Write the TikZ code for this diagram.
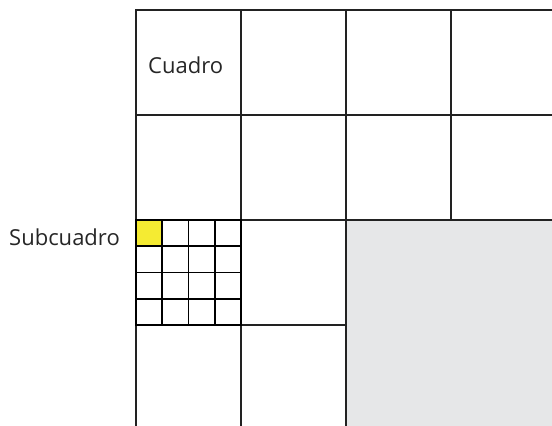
\documentclass[tikz,border=0pt]{standalone}
\usepackage{fontspec}
\setmainfont{Open Sans}
\definecolor{gridline}{HTML}{222222}
\definecolor{greyfill}{HTML}{E6E7E8}
\definecolor{hilite}{HTML}{F5EB32}
\begin{document}
\begin{tikzpicture}[x=1pt,y=-1pt,
  cell/.style={draw=gridline,line width=1.4pt},
  subcell/.style={draw=black,line width=1.8pt},
  lbl/.style={inner sep=0pt,font=\fontsize{22}{26}\selectfont,text=black!85}]
\useasboundingbox (0,0) rectangle (552,426);
% shaded region
\fill[fill=greyfill] (346,220) rectangle (570,440);
% main grid cells
\foreach \c in {0,1,2,3}{
  \foreach \r in {0,1}{
    \draw[cell] (136+105*\c,10+105*\r) rectangle ++(105,105);
  }
}
\foreach \c in {0,1}{
  \foreach \r in {2,3}{
    \draw[cell] (136+105*\c,10+105*\r) rectangle ++(105,105);
  }
}
\draw[cell] (346,220) -- (346,440);
\draw[cell] (346,220) -- (570,220);
% subgrid
\fill[fill=hilite] (136,220) rectangle ++(26.25,26.25);
\foreach \i in {0,1,2,3}{
  \foreach \j in {0,1,2,3}{
    \draw[subcell] (136+26.25*\i,220+26.25*\j) rectangle ++(26.25,26.25);
  }
}
% labels
\node[lbl,anchor=base west] (cuadro) at (148,73) {Cuadro};
\node[lbl,anchor=base west] (subcuadro) at (9,245) {Subcuadro};
\end{tikzpicture}
\end{document}
